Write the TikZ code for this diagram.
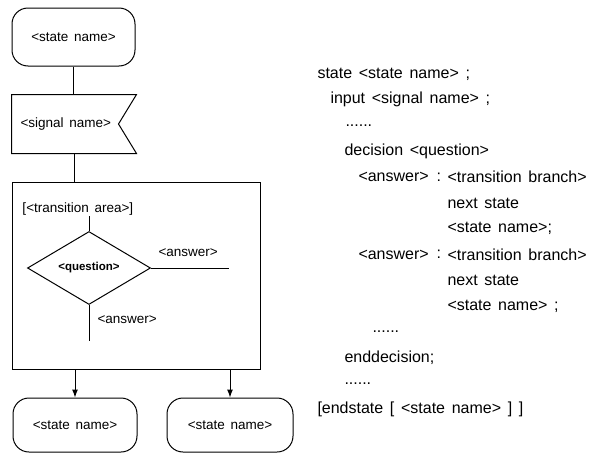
\documentclass[tikz,border=0pt]{standalone}
\usepackage{fontspec}
\setmainfont{Liberation Sans}[WordSpace=1.5]
\usetikzlibrary{arrows.meta}
\usetikzlibrary{shapes.geometric}

\tikzset{
    statebox/.style={draw, rounded corners=16pt, minimum height=54pt},
    lbl/.style={anchor=west, inner sep=0pt, font=\fontsize{13.5}{16}\selectfont},
    code/.style={anchor=west, inner sep=0pt, font=\fontsize{16}{19}\selectfont},
}

\begin{document}
\begin{tikzpicture}[x=1pt, y=-1pt, line width=1pt, font=\fontsize{13.5}{16}\selectfont]
        \useasboundingbox (0,0) rectangle (595,458);
        % diagram
        \node[statebox, minimum width=123pt, minimum height=58pt] (st0) at (73.5,37) {<state name>};
        \node[minimum width=124pt, minimum height=58pt] (sig) at (74,124) {};
        \draw (sig.north west) -- (sig.north east) -- ([xshift=-18pt]sig.east) -- (sig.south east) -- (sig.south west) -- cycle;
        \node[lbl] (siglbl) at (20,124) {<signal name>};
        \node[draw, minimum width=248pt, minimum height=187pt] (area) at (136,275.5) {};
        \node[lbl] (arealbl) at (22,209) {[<transition area>]};
        \node[draw, diamond, minimum width=123pt, minimum height=73pt, inner sep=0pt,
              font=\fontsize{11.5}{13}\selectfont\bfseries] (q) at (89,268) {<question>};
        \coordinate (qin) at (89,216);
        \coordinate (qright) at (229,268);
        \coordinate (qdown) at (89,341);
        \draw (qin) -- (q.north);
        \draw (q.east) -- (qright);
        \draw (q.south) -- (qdown);
        \node[lbl] (ans1) at (158,253) {<answer>};
        \node[lbl] (ans2) at (97,320) {<answer>};
        \node[statebox, minimum width=124pt] (st1) at (75,425) {<state name>};
        \node[statebox, minimum width=126pt] (st2) at (230,425) {<state name>};
        \draw (st0.south) -- (st0.south |- sig.north);
        \draw (sig.south) -- (sig.south |- area.north);
        \draw[-{Latex[length=8pt, width=6pt]}] (st1.north |- area.south) -- (st1.north);
        \draw[-{Latex[length=8pt, width=6pt]}] (st2.north |- area.south) -- (st2.north);
        % text form
        \node[code] (r1) at (317,74) {state <state name> ;};
        \node[code] (r2) at (330,99.8) {input <signal name> ;};
        \node[code] (r3) at (345,125.6) {......};
        \node[code] (r4) at (344,151.4) {decision <question>};
        \node[code] (r5a) at (358,177.2) {<answer>};
        \node[code] (r5b) at (436,177.2) {:};
        \node[code] (r5c) at (447,177.2) {<transition branch>};
        \node[code] (r6) at (447,203) {next state};
        \node[code] (r7) at (447,228.8) {<state name>;};
        \node[code] (r8a) at (358,254.6) {<answer>};
        \node[code] (r8b) at (436,254.6) {:};
        \node[code] (r8c) at (447,254.6) {<transition branch>};
        \node[code] (r9) at (447,280.4) {next state};
        \node[code] (r10) at (447,306.2) {<state name> ;};
        \node[code] (r11) at (372,332) {......};
        \node[code] (r12) at (344,357.8) {enddecision;};
        \node[code] (r13) at (344,383.6) {......};
        \node[code] (r14) at (317,409.4) {[endstate [ <state name> ] ]};
\end{tikzpicture}
\end{document}
